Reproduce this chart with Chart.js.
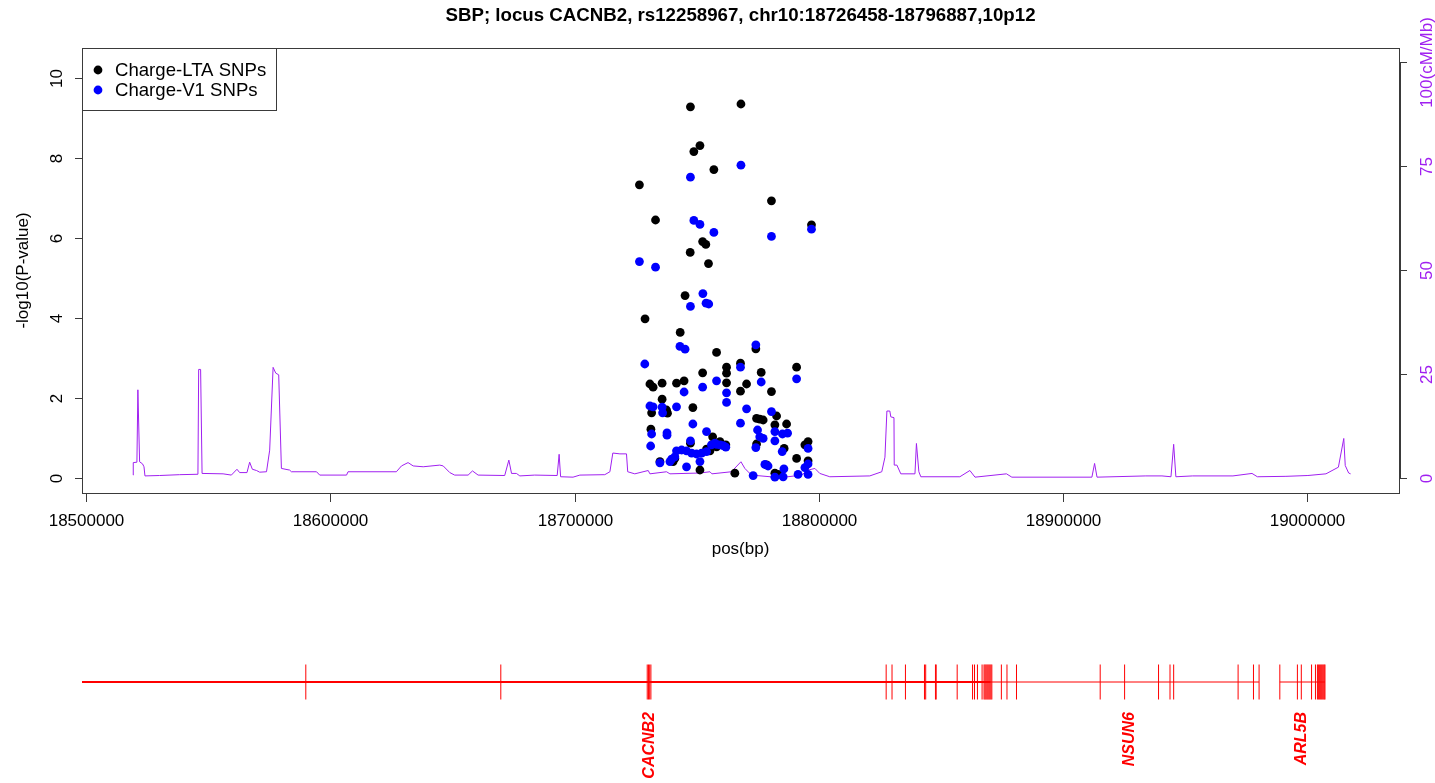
<!DOCTYPE html>
<html>
<head>
<meta charset="utf-8">
<title>SBP; locus CACNB2</title>
<script src="https://cdn.jsdelivr.net/npm/chart.js@4.4.0/dist/chart.umd.min.js"></script>
<style>
    html, body { margin: 0; padding: 0; background: #fff; }
    #wrap { width: 1435px; height: 783px; }
    canvas { display: block; }
</style>
</head>
<body>
<div id="wrap">
    <canvas id="assocChart" width="1435" height="600"></canvas>
    <canvas id="geneChart" width="1435" height="183"></canvas>
</div>
<script>
// Regional association plot - SBP, CACNB2 locus

// Texts
const chartTitle = 'SBP; locus CACNB2, rs12258967, chr10:18726458-18796887,10p12';
const seriesNames = ['Charge-LTA SNPs', 'Charge-V1 SNPs'];
const xTitle = 'pos(bp)';
const yTitle = '-log10(P-value)';

// Tick values / labels
const xTicks = [18500000, 18600000, 18700000, 18800000, 18900000, 19000000];
const yTicks = [0, 2, 4, 6, 8, 10];
const rateTicks = [0, 25, 50, 75, 100];
const rateTickLabels = ['0', '25', '50', '75', '100(cM/Mb)'];

// Charge-LTA SNPs
const ltaPos = [18747500, 18768200, 18751400, 18748900, 18757100, 18726600, 18780700, 18733200, 18797100, 18752500,
    18753800, 18747400, 18754900, 18745300, 18728900, 18743300, 18758200, 18774300, 18762300, 18768000,
    18791000, 18752500, 18762300, 18776500, 18730900, 18732200, 18735900, 18741800, 18744900, 18762300,
    18770500, 18768000, 18780700, 18735900, 18731600, 18737700, 18738100, 18748500, 18782800, 18774600,
    18775900, 18777300, 18782100, 18786900, 18731300, 18756600, 18759600, 18762000, 18747500, 18795700,
    18794400, 18754100, 18755500, 18758200, 18785900, 18741100, 18740400, 18735000, 18791000, 18795700,
    18751400, 18778700, 18765700, 18782100, 18783400, 18774600];
const ltaLogP = [9.28, 9.35, 8.31, 8.16, 7.71, 7.33, 6.93, 6.45, 6.33, 5.91,
    5.84, 5.64, 5.36, 4.56, 3.98, 3.64, 3.14, 3.23, 2.77, 2.87,
    2.77, 2.63, 2.62, 2.64, 2.35, 2.27, 2.37, 2.37, 2.43, 2.38,
    2.35, 2.17, 2.16, 1.97, 1.63, 1.70, 1.62, 1.76, 1.55, 1.49,
    1.47, 1.45, 1.33, 1.35, 1.22, 1.03, 0.91, 0.83, 0.87, 0.91,
    0.83, 0.72, 0.68, 0.78, 0.74, 0.49, 0.41, 0.41, 0.49, 0.43,
    0.20, 0.33, 0.12, 0.12, 0.09, 0.85];

// Charge-V1 SNPs
const v1Pos = [18768200, 18747500, 18748900, 18751400, 18757100, 18780700, 18797100, 18726600, 18733200, 18752600,
    18747500, 18753900, 18755000, 18743200, 18745300, 18774300, 18728800, 18768000, 18791000, 18758200,
    18776500, 18744900, 18752500, 18762300, 18762300, 18730900, 18732200, 18735900, 18736100, 18741800,
    18770500, 18780700, 18748500, 18768000, 18731600, 18737900, 18737900, 18754100, 18775000, 18782100,
    18785200, 18775900, 18777300, 18747500, 18782100, 18795700, 18731200, 18774300, 18741800, 18743900,
    18745900, 18748000, 18750000, 18752100, 18754100, 18756100, 18757500, 18759600, 18760900, 18762000,
    18785100, 18739800, 18741100, 18735000, 18739100, 18751400, 18795700, 18745900, 18778000, 18779300,
    18785800, 18794400, 18773200, 18791600, 18795700, 18785500, 18782100, 18758200, 18787300];
const v1LogP = [7.82, 7.52, 6.44, 6.34, 6.14, 6.04, 6.22, 5.41, 5.27, 4.61,
    4.29, 4.37, 4.35, 3.29, 3.22, 3.33, 2.85, 2.77, 2.48, 2.43,
    2.40, 2.15, 2.27, 2.13, 1.89, 1.80, 1.78, 1.77, 1.63, 1.78,
    1.73, 1.66, 1.35, 1.37, 1.10, 1.13, 1.07, 1.16, 1.20, 1.16,
    1.10, 1.03, 0.99, 0.93, 0.93, 0.74, 0.80, 0.76, 0.68, 0.70,
    0.68, 0.62, 0.60, 0.62, 0.66, 0.83, 0.87, 0.83, 0.81, 0.77,
    0.66, 0.47, 0.53, 0.38, 0.41, 0.41, 0.35, 0.28, 0.34, 0.30,
    0.23, 0.26, 0.06, 0.09, 0.09, 0.03, 0.02, 0.84, 1.12];

// Recombination rate (cM/Mb, right axis)
const ratePos = [18519100, 18519200, 18520700, 18521100, 18521800, 18523000, 18523600, 18524000, 18530000, 18538200,
    18545700, 18546000, 18546800, 18547400, 18556000, 18559400, 18561700, 18562800, 18565800, 18566900,
    18568000, 18569700, 18571000, 18573800, 18575100, 18576500, 18577600, 18578800, 18579900, 18583300,
    18584000, 18594300, 18595600, 18606600, 18607200, 18627000, 18629100, 18631800, 18633900, 18638000,
    18644800, 18646200, 18648900, 18650900, 18656400, 18658200, 18660500, 18671400, 18673100, 18674200,
    18676200, 18677600, 18683700, 18692900, 18693700, 18694300, 18699400, 18702200, 18712400, 18714500,
    18715700, 18718600, 18721300, 18721800, 18724700, 18730200, 18730900, 18737700, 18739100, 18751400,
    18755500, 18756300, 18764300, 18768200, 18769800, 18772500, 18782100, 18787400, 18793000, 18795700,
    18798500, 18800500, 18804600, 18821000, 18825900, 18827200, 18828000, 18829200, 18829600, 18830900,
    18831000, 18832100, 18833700, 18839500, 18840100, 18841100, 18841900, 18857900, 18862000, 18864100,
    18877000, 18879200, 18912000, 18913100, 18914100, 18934100, 18940700, 18944400, 18945500, 18946400,
    18953300, 18969800, 18977600, 18979800, 18991500, 19000500, 19007900, 19013000, 19015200, 19015800,
    19017200, 19018000];
const rateVal = [0.7, 3.7, 3.8, 21.2, 3.9, 3.4, 2.7, 0.5, 0.6, 0.8,
    0.9, 26.1, 26.1, 1.1, 1.0, 0.7, 2.1, 1.3, 1.3, 3.8,
    2.1, 1.8, 1.4, 1.5, 6.7, 26.6, 25.2, 24.8, 2.3, 1.9,
    1.5, 1.5, 0.7, 0.7, 1.5, 1.5, 2.9, 3.7, 2.9, 2.7,
    3.1, 2.9, 1.3, 0.7, 0.7, 1.7, 0.7, 0.6, 4.3, 1.1,
    1.1, 0.5, 0.7, 0.6, 5.7, 0.3, 0.2, 0.7, 0.8, 1.5,
    6.0, 5.8, 5.8, 1.5, 1.0, 1.8, 1.0, 1.5, 1.0, 1.2,
    1.5, 1.0, 1.5, 3.9, 2.3, 0.7, 0.2, 0.3, 0.7, 1.9,
    2.3, 1.1, 0.3, 0.5, 1.5, 5.0, 16.1, 16.1, 14.7, 14.5,
    3.1, 3.1, 1.0, 1.0, 8.3, 1.5, 0.3, 0.3, 1.8, 0.2,
    1.0, 0.2, 0.2, 3.5, 0.2, 0.5, 0.5, 0.3, 8.1, 0.3,
    0.5, 0.5, 1.1, 0.3, 0.4, 0.6, 1.0, 2.6, 9.5, 3.0,
    1.2, 1.0];

// Gene track
const geneThickSpan = [18498200, 18870500];
const geneThinSpans = [[18870500, 18980500], [18989000, 19007500]];
const exonPos = [18589900, 18669800, 18729800, 18730300, 18730800, 18731300,
    18827700, 18830100, 18835600, 18843400, 18843900, 18847900, 18848200, 18856800, 18863100, 18863900,
    18865100, 18867000, 18867800, 18868200, 18868600, 18869000, 18869400, 18869800, 18870200, 18870600,
    18871000, 18874900, 18877200, 18881100, 18915400, 18925400, 18939300, 18944000, 18945500, 18971900,
    18978200, 18980500, 18989000, 18996200, 18997800, 19002000, 19003600, 19004400, 19004800, 19005200,
    19005600, 19006000, 19006400, 19006800, 19007200, 19007500];
const geneNames = ['CACNB2', 'NSUN6', 'ARL5B'];
const geneLabelPos = [18730900, 18927600, 18997800];

// Axis ranges (R style 4% padding)
const xMin = 18498200, xMax = 19037830;
const yMin = -0.375, yMax = 10.75;
const rateScale = 100 / 10.4;

const FONT = "'Liberation Sans', Arial, Helvetica, sans-serif";
const PURPLE = '#A020F0';
const AXIS = '#3a3a3a';

function toPoints(xs, ys) {
    return xs.map((x, i) => ({ x: x, y: ys[i] }));
}

function vText(ctx, text, x, y, align) {
    ctx.save();
    ctx.translate(x, y);
    ctx.rotate(-Math.PI / 2);
    ctx.textAlign = align || 'center';
    ctx.fillText(text, 0, 0);
    ctx.restore();
}

// Axes, box, title and legend in R base-graphics style
const rAxes = {
    id: 'rAxes',
    afterDraw(chart) {
        const { ctx, chartArea: a, scales } = chart;
        ctx.save();
        ctx.lineWidth = 1;
        ctx.strokeStyle = AXIS;
        ctx.strokeRect(a.left + 0.5, a.top + 0.5, a.right - a.left, a.bottom - a.top);

        ctx.font = '17px ' + FONT;
        ctx.fillStyle = '#000';
        ctx.textBaseline = 'alphabetic';

        // x axis
        ctx.textAlign = 'center';
        xTicks.forEach(v => {
            const px = Math.round(scales.x.getPixelForValue(v)) + 0.5;
            ctx.beginPath();
            ctx.moveTo(px, a.bottom + 1);
            ctx.lineTo(px, a.bottom + 9);
            ctx.stroke();
            ctx.fillText(String(v), px, a.bottom + 33);
        });
        ctx.fillText(xTitle, (a.left + a.right) / 2, a.bottom + 61);

        // left y axis
        yTicks.forEach(v => {
            const py = Math.round(scales.y.getPixelForValue(v)) + 0.5;
            ctx.beginPath();
            ctx.moveTo(a.left - 7, py);
            ctx.lineTo(a.left, py);
            ctx.stroke();
            vText(ctx, String(v), a.left - 20, py);
        });
        vText(ctx, yTitle, 28, (a.top + a.bottom) / 2);

        // right y axis (recombination rate)
        const r0 = Math.round(scales.y2.getPixelForValue(rateTicks[0])) + 0.5;
        const r1 = Math.round(scales.y2.getPixelForValue(rateTicks[rateTicks.length - 1])) + 0.5;
        ctx.beginPath();
        ctx.moveTo(a.right + 1.5, r0);
        ctx.lineTo(a.right + 1.5, r1);
        ctx.stroke();
        ctx.fillStyle = PURPLE;
        rateTicks.forEach((v, i) => {
            const py = Math.round(scales.y2.getPixelForValue(v)) + 0.5;
            ctx.beginPath();
            ctx.moveTo(a.right + 1, py);
            ctx.lineTo(a.right + 8, py);
            ctx.stroke();
            vText(ctx, rateTickLabels[i], a.right + 33, py);
        });

        // title
        ctx.fillStyle = '#000';
        ctx.font = 'bold 18.7px ' + FONT;
        ctx.textAlign = 'center';
        ctx.fillText(chartTitle, (a.left + a.right) / 2, 21);

        // legend
        const colors = ['#000000', '#0000FF'];
        ctx.fillStyle = '#fff';
        ctx.fillRect(a.left, a.top, 194, 62);
        ctx.strokeRect(a.left + 0.5, a.top + 0.5, 194, 62);
        ctx.font = '18.6px ' + FONT;
        ctx.textAlign = 'left';
        ctx.textBaseline = 'middle';
        seriesNames.forEach((name, i) => {
            const cy = a.top + 22 + i * 20;
            ctx.fillStyle = colors[i];
            ctx.beginPath();
            ctx.arc(a.left + 16, cy, 4.4, 0, Math.PI * 2);
            ctx.fill();
            ctx.fillStyle = '#000';
            ctx.fillText(name, a.left + 33, cy + 1);
        });
        ctx.restore();
    }
};

const assocChart = new Chart(document.getElementById('assocChart'), {
    type: 'scatter',
    data: {
        datasets: [
            {
                label: seriesNames[1],
                data: toPoints(v1Pos, v1LogP),
                backgroundColor: '#0000FF',
                borderWidth: 0,
                pointRadius: 4.4,
                order: 1
            },
            {
                label: seriesNames[0],
                data: toPoints(ltaPos, ltaLogP),
                backgroundColor: '#000000',
                borderWidth: 0,
                pointRadius: 4.4,
                order: 2
            },
            {
                type: 'line',
                label: 'recombination',
                data: toPoints(ratePos, rateVal),
                yAxisID: 'y2',
                borderColor: PURPLE,
                borderWidth: 1,
                pointRadius: 0,
                tension: 0,
                fill: false,
                order: 3
            }
        ]
    },
    options: {
        responsive: false,
        animation: false,
        devicePixelRatio: 1,
        events: [],
        layout: { padding: { left: 82, right: 36, top: 48, bottom: 107 } },
        plugins: { legend: { display: false }, tooltip: { enabled: false }, title: { display: false } },
        scales: {
            x: { type: 'linear', min: xMin, max: xMax, display: false },
            y: { type: 'linear', min: yMin, max: yMax, display: false },
            y2: { type: 'linear', min: yMin * rateScale, max: yMax * rateScale, display: false }
        }
    },
    plugins: [rAxes]
});

// Gene track
const tickHalf = 0.4375;
const exonData = exonPos.flatMap(p => [{ x: p, y: -tickHalf }, { x: p, y: tickHalf }, { x: p, y: null }]);
const thinData = geneThinSpans.flatMap(s => [{ x: s[0], y: 0 }, { x: s[1], y: 0 }, { x: s[1], y: null }]);

const geneLabels = {
    id: 'geneLabels',
    afterDraw(chart) {
        const { ctx, scales } = chart;
        ctx.save();
        ctx.fillStyle = '#FF0000';
        ctx.font = 'italic bold 16px ' + FONT;
        ctx.textBaseline = 'middle';
        geneNames.forEach((g, i) => {
            vText(ctx, g, scales.x.getPixelForValue(geneLabelPos[i]), 112, 'right');
        });
        ctx.restore();
    }
};

const geneChart = new Chart(document.getElementById('geneChart'), {
    type: 'line',
    data: {
        datasets: [
            {
                data: geneThickSpan.map(x => ({ x: x, y: 0 })),
                borderColor: '#FF0000',
                borderWidth: 2,
                pointRadius: 0
            },
            {
                data: thinData,
                borderColor: '#FF0000',
                borderWidth: 1,
                pointRadius: 0,
                spanGaps: false
            },
            {
                data: exonData,
                borderColor: '#FF0000',
                borderWidth: 1,
                pointRadius: 0,
                spanGaps: false
            }
        ]
    },
    options: {
        responsive: false,
        animation: false,
        devicePixelRatio: 1,
        events: [],
        layout: { padding: { left: 82, right: 36, top: 42, bottom: 61 } },
        plugins: { legend: { display: false }, tooltip: { enabled: false } },
        scales: {
            x: { type: 'linear', min: xMin, max: xMax, display: false },
            y: { type: 'linear', min: -1, max: 1, display: false }
        }
    },
    plugins: [geneLabels]
});
</script>
</body>
</html>
